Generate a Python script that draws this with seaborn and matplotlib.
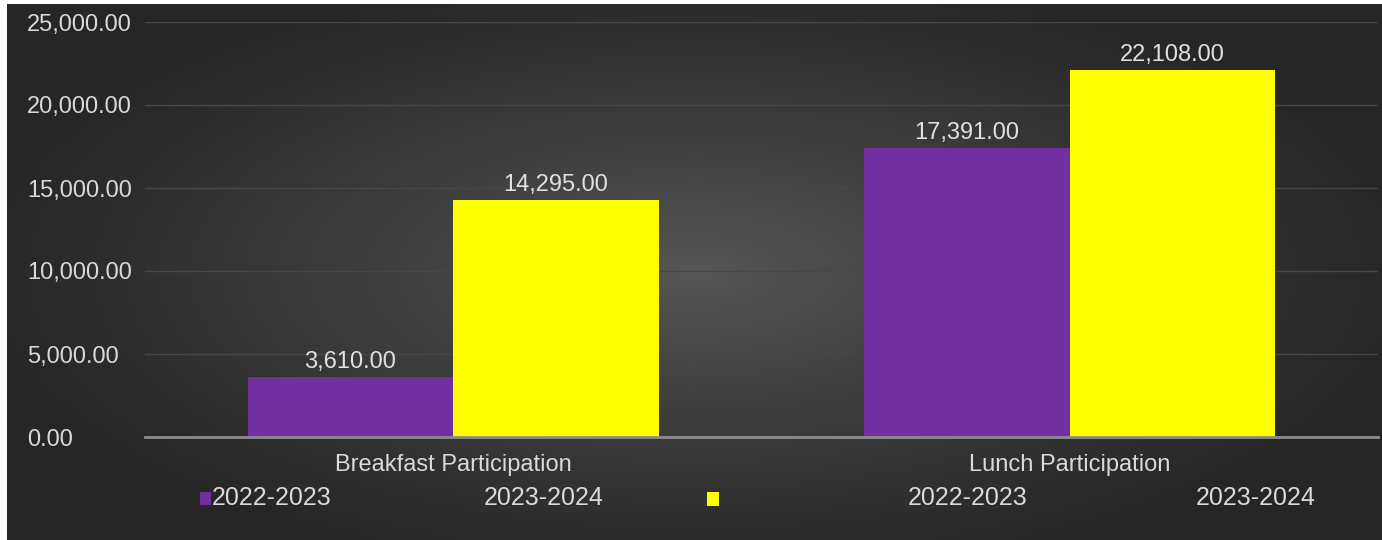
import numpy as np
import pandas as pd
import matplotlib
matplotlib.use("Agg")
import matplotlib.pyplot as plt
import seaborn as sns
from matplotlib.patches import Rectangle
from matplotlib.ticker import FuncFormatter

categories = ["Breakfast Participation", "Lunch Participation"]
series_names = ["2022-2023", "2023-2024"]
values_2022_2023 = [3610, 17391]
values_2023_2024 = [14295, 22108]
y_ticks = [0, 5000, 10000, 15000, 20000, 25000]
legend_labels = ["2022-2023", "2023-2024", "2022-2023", "2023-2024"]

df = pd.DataFrame({
    "category": categories * 2,
    "season": [series_names[0]] * 2 + [series_names[1]] * 2,
    "value": values_2022_2023 + values_2023_2024,
})

sns.set_theme(style="dark")
plt.rcParams["font.family"] = ["Liberation Sans", "DejaVu Sans"]

W, H = 1382, 540
fig = plt.figure(figsize=(W / 100, H / 100), dpi=100, facecolor="white")

# background radial gradient
bg = fig.add_axes([7 / W, 0, 1 - 7 / W, 1 - 4 / H])
bg.set_axis_off()
nx, ny = 400, 160
xx, yy = np.meshgrid(np.linspace(-1, 1, nx), np.linspace(-1, 1, ny))
r = np.sqrt((xx / 1.0) ** 2 + (yy / 1.1) ** 2)
t = np.clip(r / 1.05, 0, 1) ** 0.85
c_center = np.array([0x57, 0x57, 0x57]) / 255
c_edge = np.array([0x26, 0x26, 0x26]) / 255
img = c_center[None, None, :] * (1 - t[..., None]) + c_edge[None, None, :] * t[..., None]
bg.imshow(img, aspect="auto", extent=[0, 1, 0, 1], interpolation="bilinear")
bg.set_xlim(0, 1)
bg.set_ylim(0, 1)

ax = fig.add_axes([145 / W, 1 - 437 / H, (1378 - 145) / W, (437 - 22) / H])
ax.set_facecolor("none")

palette = {"2022-2023": "#7030A0", "2023-2024": "#FFFF00"}
sns.barplot(data=df, x="category", y="value", hue="season", order=categories,
            hue_order=series_names, palette=palette, width=0.667, gap=0,
            saturation=1, ax=ax, legend=False, errorbar=None, linewidth=0,
            edgecolor="none")

ax.set_xlim(-0.5, 1.5)
ax.set_ylim(0, 25000)
ax.set_yticks(y_ticks)
ax.yaxis.set_major_formatter(FuncFormatter(lambda v, p: f"{v:,.2f}"))
ax.set_xlabel("")
ax.set_ylabel("")
ax.grid(axis="y", color="#474747", linewidth=1)
ax.grid(axis="x", visible=False)
ax.set_axisbelow(True)
for s in ["top", "right", "left"]:
    ax.spines[s].set_visible(False)
ax.spines["bottom"].set_color("#8c8c8c")
ax.spines["bottom"].set_linewidth(2)
ax.tick_params(axis="y", length=0, pad=85, labelsize=17, labelcolor="#d9d9d9")
for lbl in ax.get_yticklabels():
    lbl.set_horizontalalignment("left")
ax.tick_params(axis="x", length=0, pad=12, labelsize=17, labelcolor="#d9d9d9")

for cont in ax.containers:
    ax.bar_label(cont, labels=[f"{v:,.2f}" for v in cont.datavalues], padding=3,
                 color="#e0e0e0", fontsize=17)

# legend drawn as figure elements
ly = 1 - 498 / H
fig.add_artist(Rectangle((200 / W, 1 - 505 / H), 11 / W, 13 / H, transform=fig.transFigure,
                         facecolor="#7030A0", edgecolor="none"))
fig.add_artist(Rectangle((707 / W, 1 - 506 / H), 12 / W, 14 / H, transform=fig.transFigure,
                         facecolor="#FFFF00", edgecolor="none"))
for x0, txt in zip([212, 484, 908, 1196], legend_labels):
    fig.text(x0 / W, ly, txt, ha="left", va="center", fontsize=18, color="#d9d9d9")

fig.savefig("out.png", dpi=100, facecolor=fig.get_facecolor())
